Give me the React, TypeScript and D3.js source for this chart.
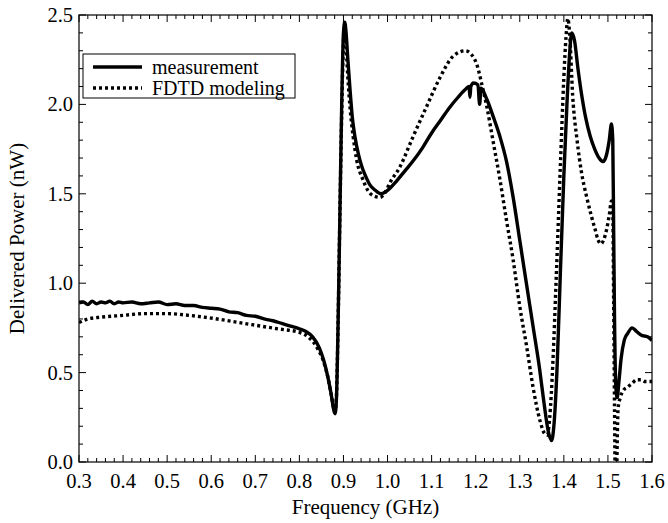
import React from 'react';
import * as d3 from 'd3';

const measFreq = [0.300,0.310,0.320,0.330,0.340,0.350,0.360,0.370,0.380,0.390,0.400,0.420,0.440,0.460,0.480,0.500,0.520,0.540,0.560,0.580,0.600,0.620,0.640,0.660,0.680,0.700,0.720,0.740,0.760,0.780,0.800,0.815,0.830,0.845,0.855,0.865,0.872,0.878,0.881,0.884,0.888,0.892,0.896,0.900,0.903,0.906,0.910,0.915,0.920,0.926,0.934,0.942,0.950,0.960,0.972,0.985,0.995,1.005,1.020,1.040,1.060,1.080,1.100,1.120,1.140,1.160,1.175,1.185,1.187,1.189,1.195,1.205,1.209,1.212,1.225,1.240,1.255,1.270,1.285,1.300,1.315,1.330,1.345,1.355,1.364,1.372,1.378,1.385,1.392,1.400,1.407,1.413,1.418,1.424,1.432,1.440,1.450,1.460,1.470,1.480,1.489,1.497,1.503,1.508,1.511,1.513,1.515,1.518,1.521,1.525,1.530,1.537,1.545,1.555,1.565,1.575,1.590,1.600];
const measPower = [0.89,0.895,0.88,0.90,0.885,0.895,0.89,0.90,0.885,0.895,0.89,0.895,0.885,0.89,0.895,0.88,0.885,0.875,0.875,0.865,0.86,0.855,0.84,0.835,0.82,0.815,0.80,0.79,0.775,0.76,0.745,0.73,0.70,0.64,0.57,0.47,0.38,0.29,0.27,0.35,0.80,1.40,2.00,2.40,2.46,2.40,2.25,2.08,1.93,1.82,1.72,1.65,1.60,1.55,1.52,1.50,1.51,1.53,1.57,1.63,1.69,1.76,1.84,1.91,1.98,2.04,2.08,2.10,2.04,2.10,2.12,2.11,2.00,2.09,2.03,1.93,1.82,1.68,1.48,1.24,1.00,0.76,0.52,0.33,0.18,0.12,0.22,0.55,1.05,1.60,2.00,2.28,2.40,2.36,2.20,2.06,1.92,1.82,1.75,1.70,1.68,1.72,1.80,1.89,1.80,1.30,0.80,0.42,0.36,0.45,0.58,0.68,0.72,0.75,0.73,0.71,0.70,0.68];

const fdtdFreq = [0.300,0.320,0.350,0.400,0.450,0.500,0.550,0.600,0.650,0.700,0.750,0.800,0.820,0.840,0.855,0.865,0.872,0.878,0.881,0.884,0.888,0.892,0.896,0.900,0.903,0.906,0.910,0.915,0.922,0.930,0.944,0.955,0.967,0.983,0.995,1.005,1.028,1.058,1.089,1.119,1.149,1.176,1.190,1.203,1.215,1.225,1.239,1.255,1.270,1.285,1.300,1.316,1.330,1.346,1.356,1.362,1.368,1.375,1.383,1.392,1.400,1.405,1.409,1.413,1.420,1.430,1.440,1.452,1.462,1.471,1.478,1.484,1.490,1.497,1.503,1.508,1.511,1.513,1.515,1.517,1.519,1.521,1.523,1.528,1.535,1.545,1.555,1.565,1.575,1.585,1.600];
const fdtdPower = [0.78,0.80,0.81,0.82,0.83,0.83,0.82,0.805,0.785,0.765,0.745,0.725,0.70,0.64,0.56,0.47,0.38,0.30,0.28,0.36,0.80,1.40,1.95,2.35,2.42,2.33,2.15,1.98,1.82,1.69,1.58,1.52,1.49,1.48,1.51,1.56,1.65,1.82,1.99,2.15,2.27,2.30,2.28,2.22,2.10,1.99,1.80,1.58,1.35,1.13,0.87,0.64,0.42,0.23,0.16,0.15,0.25,0.55,1.05,1.65,2.15,2.38,2.48,2.40,2.05,1.80,1.62,1.48,1.38,1.30,1.24,1.22,1.24,1.30,1.38,1.46,1.40,0.90,0.30,-0.20,-0.20,0.10,0.30,0.36,0.40,0.42,0.44,0.46,0.46,0.45,0.45];

const xTickValues = [0.3,0.4,0.5,0.6,0.7,0.8,0.9,1.0,1.1,1.2,1.3,1.4,1.5,1.6];
const yTickValues = [0.0,0.5,1.0,1.5,2.0,2.5];
const legendLabels = ['measurement', 'FDTD modeling'];

const W = 668, H = 523;
const L = 79, R = 652, T = 15, B = 462;
const FONT = '"Liberation Serif", "Times New Roman", serif';

export default function App() {
  const x = d3.scaleLinear().domain([0.3, 1.6]).range([L, R]);
  const y = d3.scaleLinear().domain([0, 2.5]).range([B, T]);

  const meas = measFreq.map((f, i) => [f, measPower[i]] as [number, number]);
  const fdtd = fdtdFreq.map((f, i) => [f, fdtdPower[i]] as [number, number]);
  const line = d3.line<[number, number]>()
    .x(d => x(d[0]))
    .y(d => y(d[1]))
    .curve(d3.curveMonotoneX);

  const xMinor = d3.range(0, 66).map(i => 0.3 + i * 0.02).filter(v => Math.abs(Math.round(v * 10) - v * 10) > 1e-6);
  const yMinor = d3.range(0, 26).map(i => i * 0.1).filter(v => Math.abs(Math.round(v * 2) - v * 2) > 1e-6);
  const MAJ = 7, MIN = 4;

  return (
    <svg width={W} height={H} style={{ position: 'absolute', left: 0, top: 0, background: '#fff' }} fontFamily={FONT}>
      <defs>
        <clipPath id="plotclip">
          <rect x={L} y={T} width={R - L} height={B - T} />
        </clipPath>
      </defs>
      <rect x={0} y={0} width={W} height={H} fill="#fff" />
      <g stroke="#000" strokeWidth={1}>
        {xTickValues.map(v => (
          <g key={'xt' + v}>
            <line x1={x(v)} x2={x(v)} y1={B} y2={B - MAJ} />
            <line x1={x(v)} x2={x(v)} y1={T} y2={T + MAJ} />
          </g>
        ))}
        {xMinor.map(v => (
          <g key={'xm' + v}>
            <line x1={x(v)} x2={x(v)} y1={B} y2={B - MIN} />
            <line x1={x(v)} x2={x(v)} y1={T} y2={T + MIN} />
          </g>
        ))}
        {yTickValues.map(v => (
          <g key={'yt' + v}>
            <line x1={L} x2={L + MAJ} y1={y(v)} y2={y(v)} />
            <line x1={R} x2={R - MAJ} y1={y(v)} y2={y(v)} />
          </g>
        ))}
        {yMinor.map(v => (
          <g key={'ym' + v}>
            <line x1={L} x2={L + MIN} y1={y(v)} y2={y(v)} />
            <line x1={R} x2={R - MIN} y1={y(v)} y2={y(v)} />
          </g>
        ))}
      </g>
      <rect x={L} y={T} width={R - L} height={B - T} fill="none" stroke="#000" strokeWidth={1.2} />
      <g fontSize={20.5} fill="#000">
        {xTickValues.map(v => (
          <text key={'xl' + v} x={x(v)} y={488} textAnchor="middle">{v.toFixed(1)}</text>
        ))}
        {yTickValues.map(v => (
          <text key={'yl' + v} x={73} y={y(v) + 7} textAnchor="end">{v.toFixed(1)}</text>
        ))}
      </g>
      <text x={(L + R) / 2} y={514} textAnchor="middle" fontSize={21}>Frequency (GHz)</text>
      <text transform={`translate(24,${(T + B) / 2}) rotate(-90)`} textAnchor="middle" fontSize={21}>Delivered Power (nW)</text>
      <g clipPath="url(#plotclip)" fill="none">
        <path d={line(fdtd) || ''} stroke="#000" strokeWidth={3.4} strokeDasharray="3,3" />
        <path d={line(meas) || ''} stroke="#000" strokeWidth={3.4} strokeLinejoin="round" />
      </g>
      <rect x={83} y={54} width={212} height={44} fill="#fff" stroke="#000" strokeWidth={1} />
      <line x1={93} x2={142} y1={67} y2={67} stroke="#000" strokeWidth={3.4} />
      <line x1={93} x2={142} y1={88} y2={88} stroke="#000" strokeWidth={3.4} strokeDasharray="3,3" />
      <text x={152} y={74} fontSize={20}>{legendLabels[0]}</text>
      <text x={152} y={95} fontSize={20}>{legendLabels[1]}</text>
    </svg>
  );
}
